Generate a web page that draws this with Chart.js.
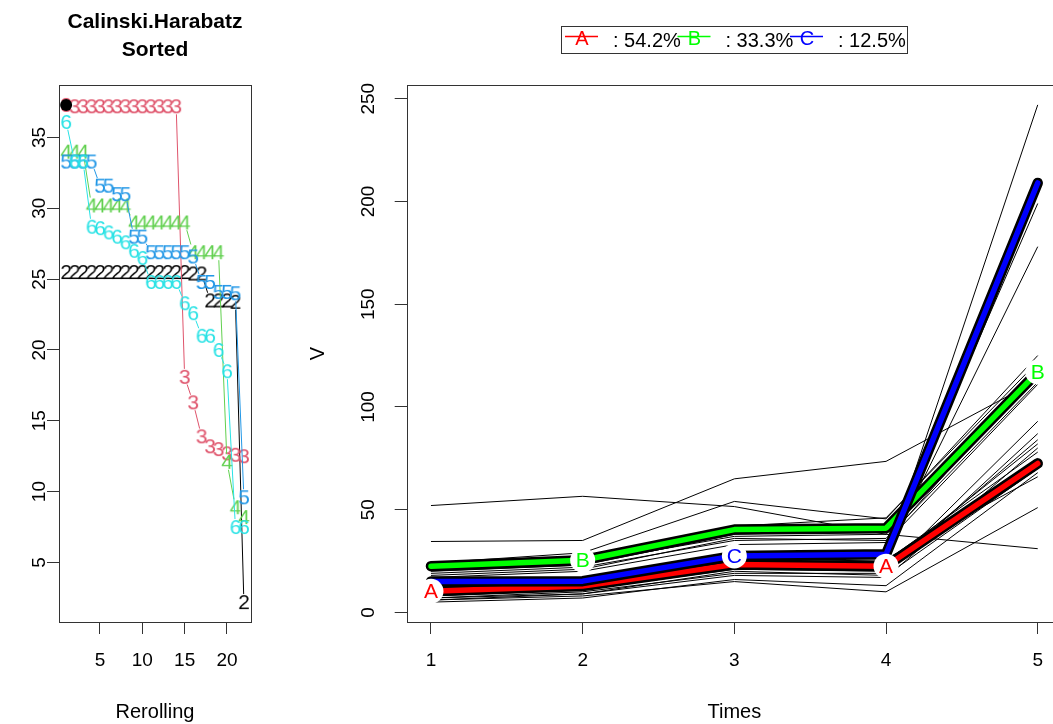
<!DOCTYPE html>
<html>
<head>
<meta charset="utf-8">
<script src="https://cdn.jsdelivr.net/npm/chart.js@4.4.1/dist/chart.umd.min.js"></script>
<style>
  html, body { margin: 0; padding: 0; background: #fff; overflow: hidden; width: 1053px; height: 724px; }
  #critChart { position: absolute; left: 0; top: 0; }
  #trajChart { position: absolute; left: 290px; top: 0; }
</style>
</head>
<body>
<canvas id="critChart" width="290" height="724"></canvas>
<canvas id="trajChart" width="780" height="724"></canvas>
<script>
//Left panel data: Calinski.Harabatz sorted, one array per number of clusters//
const rerolls = [1, 2, 3, 4, 5, 6, 7, 8, 9, 10, 11, 12, 13, 14, 15, 16, 17, 18, 19, 20, 21, 22];
const critK2 = [25.5, 25.5, 25.5, 25.5, 25.5, 25.5, 25.5, 25.5, 25.5, 25.5, 25.5, 25.5, 25.5, 25.5, 25.5, 25.4, 25.4, 23.5, 23.5, 23.5, 23.4, 2.2];
const critK3 = [37.3, 37.2, 37.2, 37.2, 37.2, 37.2, 37.2, 37.2, 37.2, 37.2, 37.2, 37.2, 37.2, 37.2, 18.1, 16.3, 13.9, 13.2, 13.0, 12.7, 12.6, 12.5];
const critK4 = [34.0, 34.0, 34.0, 30.2, 30.2, 30.2, 30.2, 30.2, 29.0, 29.0, 29.0, 29.0, 29.0, 29.0, 29.0, 26.9, 26.9, 26.9, 26.9, 12.1, 8.9, 8.2];
const critK5 = [33.3, 33.3, 33.3, 33.3, 31.6, 31.6, 31.0, 31.0, 28.0, 28.0, 26.9, 26.9, 26.9, 26.9, 26.9, 26.6, 24.8, 24.8, 24.1, 24.1, 24.0, 9.6];
const critK6 = [36.1, 33.3, 33.3, 28.7, 28.6, 28.3, 28.0, 27.6, 27.0, 26.5, 24.8, 24.8, 24.8, 24.8, 23.3, 22.6, 21.0, 21.0, 20.0, 18.5, 7.5, 7.5];
const critNames = ["2", "3", "4", "5", "6"];
const critColors = ["#000000", "#DF536B", "#61D04F", "#2297E6", "#28E2E5"];
const critXTicks = [5, 10, 15, 20];
const critYTicks = [5, 10, 15, 20, 25, 30, 35];

//Right panel data: trajectories per cluster and cluster means//
const times = [1, 2, 3, 4, 5];
const timeTicks = [1, 2, 3, 4, 5];
const vTicks = [0, 50, 100, 150, 200, 250];
const trajA = [
  [52, 56.5, 51.5, 38, 31],
  [8, 11, 21, 20, 93],
  [7, 10, 19, 19, 87],
  [9, 12, 22, 21, 84],
  [10, 13, 24, 23, 82],
  [6, 9, 18, 17, 80],
  [12, 14, 26, 25, 78],
  [8, 12, 23, 24, 75],
  [11, 14, 25, 22, 72],
  [5, 7, 16, 13, 68],
  [13, 15, 27, 26, 66],
  [6, 8, 15, 10, 51],
  [7, 9, 20, 18, 70],
];
const trajB = [
  [34.5, 35, 65, 73.5, 113],
  [24, 29, 54, 45.5, 125],
  [22, 24, 42, 46, 122],
  [20, 23, 38, 40, 120],
  [18, 21, 36, 35, 118],
  [21, 24, 37, 38, 115],
  [19, 22, 35, 36, 112],
  [17, 20, 33, 34, 111],
];
const trajC = [
  [13, 14, 25, 27, 247],
  [16, 15, 29, 29, 199],
  [15, 16, 28, 28, 178],
];
const meanA = [10.3, 12.8, 23.3, 22.5, 72.5];
const meanB = [22.5, 25.4, 40.3, 41, 117];
const meanC = [15.0, 15.2, 27.5, 28.3, 209];
const clusterNames = ["A", "B", "C"];
const clusterShares = ["54.2%", "33.3%", "12.5%"];
const clusterColors = ["#FF0000", "#00FF00", "#0000FF"];
const labelTimes = [[1, 4], [2, 5], [3]];

//Helpers//
const FONT = '"Liberation Sans", Arial, sans-serif';
Chart.defaults.font.family = FONT;
Chart.defaults.color = "#000";

// R style axis range: data range plus 4% on each side
const padRange = (values) => {
  const lo = Math.min(...values);
  const hi = Math.max(...values);
  const d = (hi - lo) * 0.04;
  return { min: lo - d, max: hi + d };
};

const digitGlyph = (ch, color) => {
  const c = document.createElement("canvas");
  c.width = 16;
  c.height = 24;
  const g = c.getContext("2d");
  g.font = "21px " + FONT;
  g.fillStyle = color;
  g.textAlign = "center";
  g.textBaseline = "middle";
  g.fillText(ch, 8, 13);
  return c;
};

const fixedTicks = (list) => (scale) => {
  scale.ticks = list.map((v) => ({ value: v }));
};

//Plugins//
const plotBox = {
  id: "plotBox",
  afterDraw(chart) {
    const { ctx, chartArea: a } = chart;
    ctx.save();
    ctx.strokeStyle = "#333";
    ctx.lineWidth = 1;
    ctx.strokeRect(Math.round(a.left) + 0.5, Math.round(a.top) + 0.5, Math.round(a.width), Math.round(a.height));
    ctx.restore();
  },
};

const rotatedYTicks = {
  id: "rotatedYTicks",
  afterDraw(chart, args, opts) {
    const { ctx } = chart;
    const ys = chart.scales.y;
    ctx.save();
    ctx.font = "19px " + FONT;
    ctx.fillStyle = "#000";
    ctx.textAlign = "center";
    ctx.textBaseline = "middle";
    ys.ticks.forEach((t) => {
      ctx.save();
      ctx.translate(opts.x, ys.getPixelForValue(t.value));
      ctx.rotate(-Math.PI / 2);
      ctx.fillText(String(t.value), 0, 0);
      ctx.restore();
    });
    ctx.restore();
  },
};

// lines that stop short of each plotted character, like R type = "b"
const GAP = 8;
const gappedLines = {
  id: "gappedLines",
  beforeDatasetDraw(chart, args) {
    const ds = chart.data.datasets[args.index];
    if (!ds.gapLine) return;
    const pts = args.meta.data;
    const { ctx, chartArea: a } = chart;
    ctx.save();
    ctx.beginPath();
    ctx.rect(a.left, a.top, a.width, a.height);
    ctx.clip();
    ctx.strokeStyle = ds.borderColor;
    ctx.lineWidth = 1;
    ctx.beginPath();
    for (let i = 1; i < pts.length; i++) {
      const dx = pts[i].x - pts[i - 1].x;
      const dy = pts[i].y - pts[i - 1].y;
      const len = Math.hypot(dx, dy);
      if (len <= 2 * GAP) continue;
      const ux = dx / len;
      const uy = dy / len;
      ctx.moveTo(pts[i - 1].x + ux * GAP, pts[i - 1].y + uy * GAP);
      ctx.lineTo(pts[i].x - ux * GAP, pts[i].y - uy * GAP);
    }
    ctx.stroke();
    ctx.restore();
  },
};

const clusterLabels = {
  id: "clusterLabels",
  afterDatasetsDraw(chart) {
    const { ctx } = chart;
    const { x, y } = chart.scales;
    const means = [meanA, meanB, meanC];
    ctx.save();
    ctx.font = "21px " + FONT;
    ctx.textAlign = "center";
    ctx.textBaseline = "middle";
    labelTimes.forEach((ts, c) => {
      ts.forEach((t) => {
        const px = x.getPixelForValue(t);
        const py = y.getPixelForValue(means[c][t - 1]);
        ctx.beginPath();
        ctx.arc(px, py, 12.5, 0, 2 * Math.PI);
        ctx.fillStyle = "#fff";
        ctx.fill();
        ctx.fillStyle = clusterColors[c];
        ctx.fillText(clusterNames[c], px, py + 1);
      });
    });
    ctx.restore();
  },
};

const clusterLegend = {
  id: "clusterLegend",
  afterDraw(chart) {
    const { ctx, chartArea: a } = chart;
    const boxW = 346;
    const boxH = 27;
    const left = Math.round((a.left + a.right) / 2 - boxW / 2);
    const top = 26;
    ctx.save();
    ctx.strokeStyle = "#333";
    ctx.lineWidth = 1;
    ctx.strokeRect(left + 0.5, top + 0.5, boxW, boxH);
    ctx.font = "20px " + FONT;
    ctx.textBaseline = "middle";
    clusterNames.forEach((name, i) => {
      const x0 = left + 4 + i * 112.5;
      ctx.strokeStyle = clusterColors[i];
      ctx.lineWidth = 1.3;
      ctx.beginPath();
      ctx.moveTo(x0, top + 10.5);
      ctx.lineTo(x0 + 33, top + 10.5);
      ctx.stroke();
      ctx.fillStyle = clusterColors[i];
      ctx.textAlign = "center";
      ctx.fillText(name, x0 + 17, top + 13);
      ctx.fillStyle = "#000";
      ctx.textAlign = "left";
      ctx.fillText(": " + clusterShares[i], x0 + 48, top + 15);
    });
    ctx.restore();
  },
};

const axisGrid = { drawOnChartArea: false, drawTicks: true, tickLength: 12, color: "#333", lineWidth: 1 };

//Left chart//
const critSeries = [critK2, critK3, critK4, critK5, critK6];
const critAll = critSeries.flat();
const critYRange = padRange(critAll);
const critXRange = padRange(rerolls);
const critBest = Math.max(...critAll);
const bestSeries = critSeries.find((s) => s.includes(critBest));

const critDatasets = critSeries.map((s, i) => ({
  data: rerolls.map((r, j) => ({ x: r, y: s[j] })),
  borderColor: critColors[i],
  showLine: false,
  gapLine: true,
  pointStyle: digitGlyph(critNames[i], critColors[i]),
  pointRadius: 5,
  order: 10 - i,
}));
critDatasets.push({
  data: [{ x: rerolls[bestSeries.indexOf(critBest)], y: critBest }],
  showLine: false,
  pointStyle: "circle",
  pointRadius: 6,
  backgroundColor: "#000",
  borderColor: "#000",
  borderWidth: 0,
  order: 1,
});

new Chart(document.querySelector("#critChart"), {
  type: "line",
  data: { datasets: critDatasets },
  options: {
    responsive: false,
    animation: false,
    layout: { padding: { top: 0, right: 39, bottom: 0, left: 0 } },
    plugins: {
      legend: { display: false },
      tooltip: { enabled: false },
      title: {
        display: true,
        fullSize: false,
        text: ["Calinski.Harabatz", "Sorted"],
        font: { size: 21, weight: "bold", family: FONT, lineHeight: 1.3 },
        color: "#000",
        padding: { top: 9, bottom: 21.4 },
      },
      rotatedYTicks: { x: 40 },
    },
    scales: {
      x: {
        type: "linear",
        min: critXRange.min,
        max: critXRange.max,
        afterBuildTicks: fixedTicks(critXTicks),
        afterFit: (s) => { s.height = 102; },
        grid: axisGrid,
        border: { display: false },
        ticks: { font: { size: 19 }, color: "#000", padding: 15, maxRotation: 0, autoSkip: false },
        title: { display: true, text: "Rerolling", font: { size: 20 }, color: "#000", padding: { top: 0, bottom: 0 } },
      },
      y: {
        type: "linear",
        min: critYRange.min,
        max: critYRange.max,
        afterBuildTicks: fixedTicks(critYTicks),
        afterFit: (s) => { s.width = 59; },
        grid: axisGrid,
        border: { display: false },
        ticks: { display: false },
      },
    },
  },
  plugins: [gappedLines, plotBox, rotatedYTicks],
});

//Right chart//
const trajDatasets = [];
[trajA, trajB, trajC].forEach((group) => {
  group.forEach((traj) => {
    trajDatasets.push({
      data: times.map((t, i) => ({ x: t, y: traj[i] })),
      borderColor: "#000",
      borderWidth: 1,
      pointRadius: 0,
      order: 100,
    });
  });
});
[meanA, meanB, meanC].forEach((mean, c) => {
  const pts = times.map((t, i) => ({ x: t, y: mean[i] }));
  trajDatasets.push({
    data: pts,
    borderColor: "#000",
    borderWidth: 10.5,
    borderCapStyle: "round",
    borderJoinStyle: "round",
    pointRadius: 0,
    order: 20 - 2 * c,
  });
  trajDatasets.push({
    data: pts,
    borderColor: clusterColors[c],
    borderWidth: 5.5,
    borderCapStyle: "round",
    borderJoinStyle: "round",
    pointRadius: 0,
    order: 19 - 2 * c,
  });
});

const vRange = padRange([trajA, trajB, trajC].flat(2));
const tRange = padRange(times);

new Chart(document.querySelector("#trajChart"), {
  type: "line",
  data: { datasets: trajDatasets },
  options: {
    responsive: false,
    animation: false,
    layout: { padding: { top: 85, right: 8, bottom: 0, left: 0 } },
    plugins: {
      legend: { display: false },
      tooltip: { enabled: false },
      rotatedYTicks: { x: 79 },
    },
    scales: {
      x: {
        type: "linear",
        min: tRange.min,
        max: tRange.max,
        afterBuildTicks: fixedTicks(timeTicks),
        afterFit: (s) => { s.height = 102; },
        grid: axisGrid,
        border: { display: false },
        ticks: { font: { size: 19 }, color: "#000", padding: 15, maxRotation: 0, autoSkip: false },
        title: { display: true, text: "Times", font: { size: 20 }, color: "#000", padding: { top: 0, bottom: 0 } },
      },
      y: {
        type: "linear",
        min: vRange.min,
        max: vRange.max,
        afterBuildTicks: fixedTicks(vTicks),
        afterFit: (s) => { s.width = 116.7; },
        grid: axisGrid,
        border: { display: false },
        ticks: { display: false },
        title: { display: true, text: "V", font: { size: 20 }, color: "#000", padding: { top: 16, bottom: 0 } },
      },
    },
  },
  plugins: [plotBox, rotatedYTicks, clusterLabels, clusterLegend],
});
</script>
</body>
</html>
